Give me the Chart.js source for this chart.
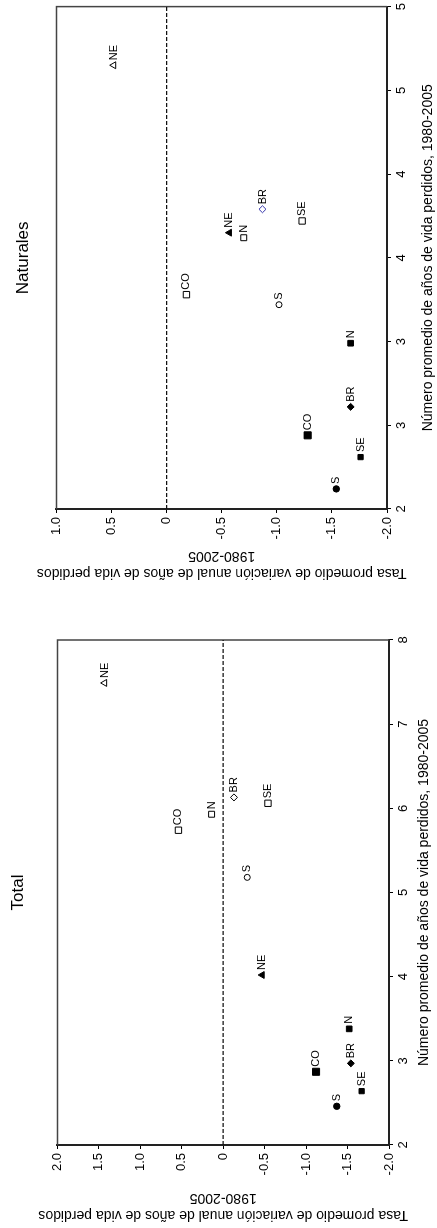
<!DOCTYPE html>
<html>
<head>
<meta charset="utf-8">
<script src="https://cdn.jsdelivr.net/npm/chart.js@4.4.0/dist/chart.umd.min.js"></script>
<style>
  html, body { margin: 0; padding: 0; background: #fff; overflow: hidden; }
  body { width: 437px; height: 1228px; position: relative; }
  .panel { position: absolute; left: 0; width: 614px; height: 437px; transform-origin: 0 0; }
  .panel canvas { display: block; }
</style>
</head>
<body>
<div class="panel" style="top:0; transform: translateY(614px) rotate(-90deg)"><canvas id="natChart" width="614" height="437"></canvas></div>
<div class="panel" style="top:614px; transform: translateY(614px) rotate(-90deg)"><canvas id="totChart" width="614" height="437"></canvas></div>
<script>
Chart.defaults.font.family = 'Arial, "Liberation Sans", sans-serif';
Chart.defaults.color = '#000';

const regions = ['BR', 'N', 'NE', 'SE', 'S', 'CO'];

// Naturales
const natFilledX = [2.61, 2.99, 3.65, 2.31, 2.12, 2.44];
const natFilledY = [-1.67, -1.67, -0.57, -1.76, -1.54, -1.28];
const natOpenX = [3.79, 3.62, 4.65, 3.72, 3.22, 3.28];
const natOpenY = [-0.87, -0.70, 0.48, -1.23, -1.02, -0.18];

// Total
const totFilledX = [2.97, 3.38, 4.02, 2.64, 2.46, 2.87];
const totFilledY = [-1.54, -1.52, -0.47, -1.67, -1.37, -1.12];
const totOpenX = [6.13, 5.93, 7.49, 6.06, 5.18, 5.74];
const totOpenY = [-0.13, 0.14, 1.43, -0.54, -0.29, 0.54];

const xTitle = 'Número promedio de años de vida perdidos, 1980-2005';
const yTitle = ['Tasa promedio de variación anual de años de vida perdidos', '1980-2005'];

const pointStyles = ['rectRot', 'rect', 'triangle', 'rect', 'circle', 'rect'];
const filledRadius = [3.5, 4, 4, 3.7, 3.2, 5];
const openRadius = [3.5, 4.2, 4, 4.5, 3, 4.5];

function toPoints(xs, ys) {
  return xs.map((x, i) => ({x: x, y: ys[i]}));
}

// top/right sides of the frame plus the dashed zero line
const framePlugin = {
  id: 'frame',
  beforeDatasetsDraw(chart) {
    const {ctx, chartArea: a, scales} = chart;
    ctx.save();
    ctx.strokeStyle = '#444';
    ctx.lineWidth = 1.5;
    ctx.beginPath();
    ctx.moveTo(a.left, a.top);
    ctx.lineTo(a.right, a.top);
    ctx.lineTo(a.right, a.bottom);
    ctx.stroke();
    const y0 = scales.y.getPixelForValue(0);
    ctx.setLineDash([4, 2]);
    ctx.strokeStyle = '#111';
    ctx.lineWidth = 1.3;
    ctx.beginPath();
    ctx.moveTo(a.left, y0);
    ctx.lineTo(a.right, y0);
    ctx.stroke();
    ctx.restore();
  }
};

// region name to the right of every marker
const pointLabels = {
  id: 'pointLabels',
  afterDatasetsDraw(chart) {
    const ctx = chart.ctx;
    ctx.save();
    ctx.font = '11px Arial, "Liberation Sans", sans-serif';
    ctx.fillStyle = '#000';
    ctx.textBaseline = 'middle';
    ctx.textAlign = 'left';
    chart.data.datasets.forEach((ds, i) => {
      chart.getDatasetMeta(i).data.forEach((pt, j) => {
        ctx.fillText(regions[j], pt.x + 5, pt.y);
      });
    });
    ctx.restore();
  }
};

function createScatter(elementID, opt) {
  const ctx = document.getElementById(elementID);
  return new Chart(ctx, {
    type: 'scatter',
    data: {
      datasets: [{
        data: toPoints(opt.filledX, opt.filledY),
        pointStyle: pointStyles,
        pointRadius: filledRadius,
        backgroundColor: '#000',
        borderColor: '#000',
        borderWidth: 1
      }, {
        data: toPoints(opt.openX, opt.openY),
        pointStyle: pointStyles,
        pointRadius: openRadius,
        backgroundColor: '#fff',
        borderColor: opt.openColors,
        borderWidth: 1
      }]
    },
    options: {
      responsive: false,
      animation: false,
      devicePixelRatio: 1,
      layout: { padding: { left: 0, right: opt.padRight, top: 0, bottom: 0 } },
      plugins: {
        legend: { display: false },
        tooltip: { enabled: false },
        title: {
          display: true,
          text: opt.title,
          fullSize: false,
          color: '#000',
          font: { size: 17, weight: 'normal' },
          padding: { top: opt.titleTop, bottom: opt.titleBottom }
        }
      },
      scales: {
        x: {
          type: 'linear',
          position: 'bottom',
          min: 2,
          max: opt.xMax,
          afterFit: s => { s.height = opt.xHeight; },
          ticks: {
            stepSize: opt.xStep,
            autoSkip: false,
            maxRotation: 0,
            padding: 3,
            font: { size: 13 },
            callback: v => String(Math.round(v))
          },
          grid: { drawOnChartArea: false, drawTicks: true, tickLength: 4, color: '#000' },
          border: { display: true, color: '#222', width: 2 },
          title: {
            display: true,
            text: xTitle,
            font: { size: 14 },
            padding: { top: 0, bottom: opt.xTitlePad }
          }
        },
        y: {
          type: 'linear',
          min: -2,
          max: opt.yMax,
          afterFit: s => { s.width = opt.yWidth; },
          ticks: {
            stepSize: 0.5,
            padding: 4,
            font: { size: 13 },
            callback: v => v === 0 ? '0' : v.toFixed(1)
          },
          grid: { drawOnChartArea: false, drawTicks: true, tickLength: 4, color: '#000' },
          border: { display: true, color: '#222', width: 2 },
          title: {
            display: true,
            text: yTitle,
            font: { size: 14, lineHeight: 17 / 14 },
            padding: { top: opt.yTitlePad, bottom: 0 }
          }
        }
      }
    },
    plugins: [framePlugin, pointLabels]
  });
}

createScatter('natChart', {
  title: 'Naturales',
  filledX: natFilledX, filledY: natFilledY,
  openX: natOpenX, openY: natOpenY,
  openColors: ['#3333aa', '#000', '#000', '#000', '#000', '#000'],
  xMax: 5, xStep: 0.5, yMax: 1,
  padRight: 4, xHeight: 50, yWidth: 105,
  titleTop: 13, titleBottom: 23,
  xTitlePad: 0.6, yTitlePad: 32.5
});

createScatter('totChart', {
  title: 'Total',
  filledX: totFilledX, filledY: totFilledY,
  openX: totOpenX, openY: totOpenY,
  openColors: '#000',
  xMax: 8, xStep: 1, yMax: 2,
  padRight: 26, xHeight: 48, yWidth: 83,
  titleTop: 8, titleBottom: 29,
  xTitlePad: 4.6, yTitlePad: 4.5
});
</script>
</body>
</html>
